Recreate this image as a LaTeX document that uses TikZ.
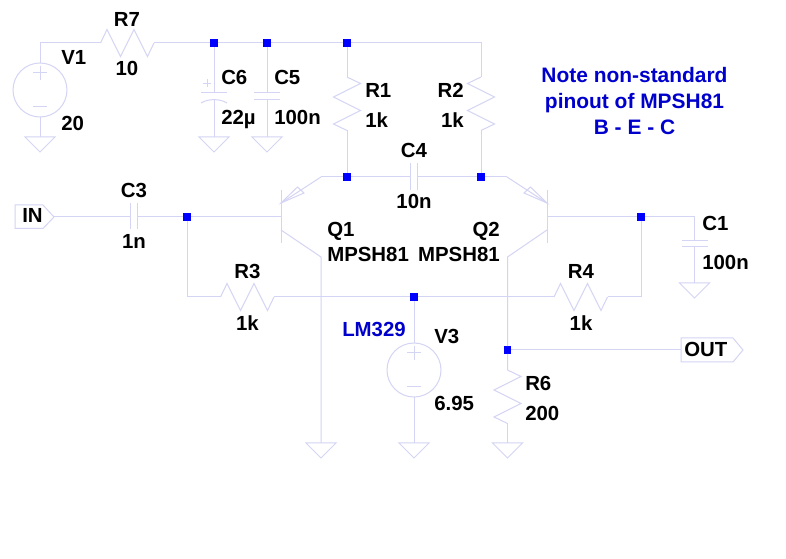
\documentclass[tikz,border=0pt]{standalone}
\usepackage{fontspec}
\setmainfont{Liberation Sans}
\definecolor{wirec}{RGB}{212,212,244}
\definecolor{notec}{RGB}{0,0,205}
\tikzset{
  wire/.style={draw=wirec,line width=0.75pt,line join=miter},
  dotn/.style={rectangle,fill=blue,draw=none,minimum size=5.4pt,inner sep=0pt},
  lab/.style={font=\fontsize{15.3}{15.3}\selectfont\bfseries,inner sep=0pt,anchor=base west,text=black},
  labr/.style={lab,anchor=base east},
  labc/.style={lab,anchor=base},
  note/.style={lab,text=notec},
  notecen/.style={labc,text=notec,font=\fontsize{15.7}{15.7}\selectfont\bfseries},
  gnd/.pic={\draw[wire] (-15,0) -- (15,0) -- (0,15) -- cycle;},
  vsrc/.pic={\draw[wire] (0,0) circle (27);
    \draw[wire] (-7,-17) -- (7,-17) (0,-24) -- (0,-10) (-7,17) -- (7,17);},
  reshz/.pic={\draw[wire] (0,0) -- (6.5,-13.5) -- (20,13.5) -- (33.5,-13.5) -- (47,13.5) -- (53.5,0);},
  resvt/.pic={\draw[wire] (0,0) -- (13.5,6.5) -- (-13.5,20) -- (13.5,33.5) -- (-13.5,47) -- (0,53.5);},
  resvtm/.pic={\draw[wire] (0,0) -- (-13.5,6.5) -- (13.5,20) -- (-13.5,33.5) -- (13.5,47) -- (0,53.5);}
}
\begin{document}
\begin{tikzpicture}[x=0.75pt,y=-0.75pt]
\useasboundingbox[fill=white] (0,0) rectangle (786,559);
% junctions
\node[dotn] (j1) at (214,43) {};
\node[dotn] (j2) at (267,43) {};
\node[dotn] (j3) at (347,43) {};
\node[dotn] (j4) at (347,177) {};
\node[dotn] (j5) at (481,177) {};
\node[dotn] (j6) at (187,217) {};
\node[dotn] (j7) at (641,217) {};
\node[dotn] (j8) at (414,297) {};
\node[dotn] (j9) at (507.5,350) {};
% named points
\coordinate (v1top) at (40,63);
\coordinate (v1bot) at (40,117);
\coordinate (v1g) at (40,137);
\coordinate (r7a) at (100.5,43);
\coordinate (r7b) at (154,43);
\coordinate (c6g) at (214,137);
\coordinate (c5g) at (267,137);
\coordinate (tr) at (481,43);
\coordinate (r1a) at (347,77);
\coordinate (r1b) at (347,130.5);
\coordinate (r2a) at (481,77);
\coordinate (r2b) at (481,130.5);
\coordinate (c4l) at (410,177);
\coordinate (c4r) at (417,177);
\coordinate (q1e) at (321,177);
\coordinate (q1eb) at (281,203);
\coordinate (q1c) at (321,257);
\coordinate (q1cb) at (281,230);
\coordinate (q1b) at (281,217);
\coordinate (q1g) at (321,443);
\coordinate (q2e) at (507,177);
\coordinate (q2eb) at (547,203);
\coordinate (q2c) at (507.5,257);
\coordinate (q2cb) at (547,230);
\coordinate (q2b) at (547,217);
\coordinate (c1w) at (694.5,217);
\coordinate (c3l) at (130.5,217);
\coordinate (c3r) at (137,217);
\coordinate (r3a) at (220.5,297);
\coordinate (r3b) at (274,297);
\coordinate (r4a) at (554,297);
\coordinate (r4b) at (607.5,297);
\coordinate (r6a) at (507.5,370);
\coordinate (r6b) at (507.5,423.5);
\coordinate (r6g) at (507.5,443);
\coordinate (v3g) at (414,443);
% flags
\draw[wire] (15,205) -- (43,205) -- (54,217) -- (43,228.5) -- (15,228.5) -- cycle;
\coordinate (inp) at (54,217);
\draw[wire] (681,338) -- (733,338) -- (743,350) -- (733,362) -- (681,362) -- cycle;
\coordinate (outp) at (681,350);
% wires
\draw[wire] (v1top) -- (40,43) -- (r7a);
\draw[wire] (r7b) -- (j1) -- (j2) -- (j3) -- (tr) -- (r2a);
\draw[wire] (v1bot) -- (v1g);
\draw[wire] (j3) -- (r1a) (r1b) -- (j4);
\draw[wire] (r2b) -- (j5);
\draw[wire] (q1e) -- (j4) -- (c4l) (c4r) -- (j5) -- (q2e);
\draw[wire] (q1e) -- (q1eb) (q1cb) -- (q1c) -- (q1g);
\draw[wire] (q2e) -- (q2eb) (q2cb) -- (q2c) -- (j9) -- (r6a);
\draw[wire] (r6b) -- (r6g);
\draw[wire] (j9) -- (outp);
\draw[wire] (inp) -- (c3l) (c3r) -- (j6) -- (q1b);
\draw[wire] (j6) -- (187,297) -- (r3a);
\draw[wire] (r3b) -- (j8) -- (r4a);
\draw[wire] (r4b) -- (641,297) -- (j7);
\draw[wire] (q2b) -- (j7) -- (c1w) -- (694.5,240.5);
\draw[wire] (694.5,247) -- (694.5,283);
\draw[wire] (j8) -- (414,343) (414,397) -- (v3g);
% C6
\draw[wire] (j1) -- (214,93) (201,93) -- (227,93);
\draw[wire] (201,103) .. controls (208,98.5) and (220,98.5) .. (227,103);
\draw[wire] (214,100) -- (c6g);
\draw[wire] (203,83.5) -- (211,83.5) (207,79.5) -- (207,87.5);
% C5
\draw[wire] (j2) -- (267,93) (254,93) -- (280,93) (254,100) -- (280,100) (267,100) -- (c5g);
% C1
\draw[wire] (681.5,240.5) -- (707.5,240.5) (681.5,247) -- (707.5,247);
% C3, C4
\draw[wire] (130.5,203) -- (130.5,229.5) (137,203) -- (137,229.5);
\draw[wire] (410,163.5) -- (410,190) (417,163.5) -- (417,190);
% resistors
\pic at (r7a) {reshz};
\pic at (r3a) {reshz};
\pic at (r4a) {reshz};
\pic at (r1a) {resvt};
\pic at (r2a) {resvtm};
\pic at (r6a) {resvt};
% sources
\pic at (40,90) {vsrc};
\pic at (414,370) {vsrc};
% grounds
\pic at (v1g) {gnd};
\pic at (c6g) {gnd};
\pic at (c5g) {gnd};
\pic at (q1g) {gnd};
\pic at (v3g) {gnd};
\pic at (r6g) {gnd};
\pic at (694.5,283) {gnd};
% transistors
\draw[wire] (281,190) -- (281,243);
\draw[wire] (281,203) -- (297.5,187) -- (304,193) -- cycle;
\draw[wire] (547,190) -- (547,243);
\draw[wire] (547,203) -- (530.5,187) -- (524,193) -- cycle;
% labels
\node[lab] (tv1) at (61,65) {V1};
\node[lab] (t20) at (61,131) {20};
\node[labc] (tr7) at (127,27) {R7};
\node[labc] (t10) at (127,76) {10};
\node[lab] (tc6) at (221,84.5) {C6};
\node[lab] (t22) at (221,125) {22µ};
\node[lab] (tc5) at (274,84.5) {C5};
\node[lab] (t100a) at (274,125) {100n};
\node[lab] (tr1) at (365,98) {R1};
\node[lab] (t1ka) at (365,128) {1k};
\node[labr] (tr2) at (464,98) {R2};
\node[labr] (t1kb) at (464,128) {1k};
\node[labc] (tc4) at (414,157.5) {C4};
\node[labc] (t10n) at (414,209) {10n};
\node[lab] (tq1) at (327,237) {Q1};
\node[lab] (tm1) at (327,262) {MPSH81};
\node[labr] (tq2) at (500,237) {Q2};
\node[labr] (tm2) at (500,262) {MPSH81};
\node[labc] (tc3) at (134,198) {C3};
\node[labc] (t1n) at (134,249) {1n};
\node[lab] (tin) at (22,223) {IN};
\node[labc] (tr3) at (247.5,279) {R3};
\node[labc] (t1kc) at (247.5,331) {1k};
\node[labc] (tr4) at (581,279) {R4};
\node[labc] (t1kd) at (581,331) {1k};
\node[lab] (tc1) at (702,231) {C1};
\node[lab] (t100b) at (702,270) {100n};
\node[lab] (tout) at (684,357) {OUT};
\node[lab] (tr6) at (525,391) {R6};
\node[lab] (t200) at (525,421) {200};
\node[lab] (tv3) at (434,344) {V3};
\node[lab] (t695) at (434,411) {6.95};
\node[note] (tlm) at (342,337) {LM329};
\node[notecen] (n1) at (634.5,83) {Note non-standard};
\node[notecen] (n2) at (634.5,109) {pinout of MPSH81};
\node[notecen] (n3) at (634.5,135) {B - E - C};
\end{tikzpicture}
\end{document}
